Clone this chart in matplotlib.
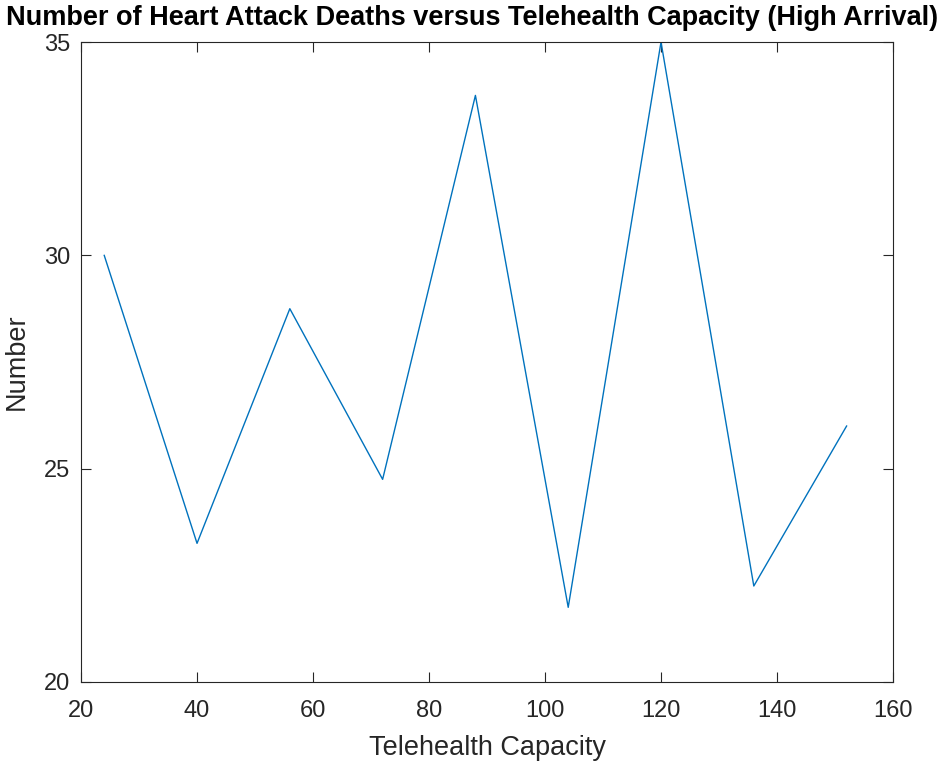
import matplotlib
matplotlib.use('Agg')
import matplotlib.pyplot as plt

plt.rcParams['font.family'] = ['Liberation Sans', 'DejaVu Sans']

# telehealth capacity vs heart attack deaths (high arrival)
capacity = [24, 40, 56, 72, 88, 104, 120, 136, 152]
deaths = [30.0, 23.25, 28.75, 24.75, 33.75, 21.75, 35.0, 22.25, 26.0]

fig = plt.figure(figsize=(9.5, 7.65), dpi=100)
ax = fig.add_axes([0.0853, 0.1085, 0.8547, 0.8365])

ax.plot(capacity, deaths, color='#0072BD', lw=1.0)

ax.set_xlim(20, 160)
ax.set_ylim(20, 35)
ax.set_xticks(range(20, 161, 20))
ax.set_yticks([20, 25, 30, 35])

for s in ax.spines.values():
    s.set_color('#262626')
    s.set_linewidth(0.8)
ax.tick_params(direction='in', top=True, right=True, length=7, width=0.8,
               colors='#262626', labelsize=17)
ax.tick_params(axis='x', pad=13)
ax.tick_params(axis='y', pad=8)

ax.set_xlabel('Telehealth Capacity', fontsize=19.5, color='#262626', labelpad=9)
ax.set_ylabel('Number', fontsize=19.5, color='#262626', labelpad=10)
fig.text(0.497, 0.976, 'Number of Heart Attack Deaths versus Telehealth Capacity (High Arrival)',
         fontsize=19.5, fontweight='bold', ha='center', va='center')

fig.savefig('out.png', dpi=100)
